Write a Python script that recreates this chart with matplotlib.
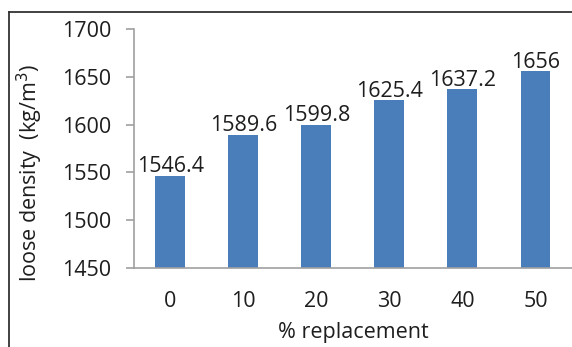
import matplotlib.pyplot as plt
from matplotlib.lines import Line2D

replacement = ["0", "10", "20", "30", "40", "50"]
loose_density = [1546.4, 1589.6, 1599.8, 1625.4, 1637.2, 1656]
value_labels = ["1546.4", "1589.6", "1599.8", "1625.4", "1637.2", "1656"]

plt.rcParams['font.family'] = ['Open Sans', 'DejaVu Sans']

fig = plt.figure(figsize=(5.72, 3.47), dpi=100)
ax = fig.add_axes([0.234, 0.228, 0.766, 0.688])

x = range(len(replacement))
bars = ax.bar(x, loose_density, width=0.41, color="#4a7ebb", zorder=2)
for b, lab in zip(bars, value_labels):
    ax.text(b.get_x() + b.get_width() / 2, b.get_height() - 1.5, lab,
            ha="center", va="bottom", fontsize=15.5, color="#1e1e1e")

ax.set_ylim(1450, 1700)
ax.set_yticks([1450, 1500, 1550, 1600, 1650, 1700])
ax.set_xlim(-0.5, 5.5)
ax.set_xticks(list(x))
ax.set_xticklabels(replacement)

for side in ["top", "right"]:
    ax.spines[side].set_visible(False)
for side in ["left", "bottom"]:
    ax.spines[side].set_color("#a0a0a0")
    ax.spines[side].set_linewidth(1.2)
ax.tick_params(axis="y", length=6, width=1.2, color="#a0a0a0",
               labelsize=15.5, labelcolor="#1e1e1e", pad=10)
ax.tick_params(axis="x", length=0, labelsize=15.5, labelcolor="#1e1e1e", pad=17)

ax.set_xlabel("% replacement", fontsize=15.5, color="#1e1e1e", labelpad=7)
fig.text(0.052, 0.50, "loose density  (kg/m$^3$)", rotation=90,
         ha="center", va="center", fontsize=15.5, color="#1e1e1e")

# outer frame
fig.add_artist(Line2D([9 / 572, 9 / 572], [0, 1 - 12 / 347], color="#333333", lw=1.3))
fig.add_artist(Line2D([9 / 572, 1], [1 - 12 / 347, 1 - 12 / 347], color="#333333", lw=1.3))

fig.savefig("out.png", dpi=100)
